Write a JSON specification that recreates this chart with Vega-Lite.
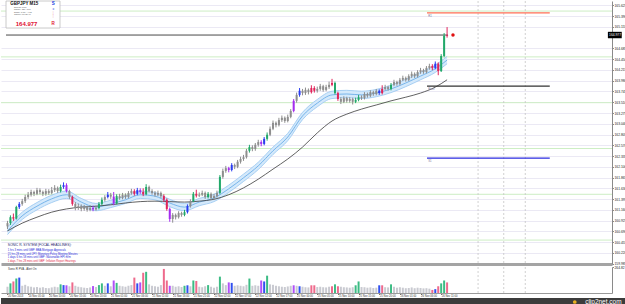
{
"$schema":"https://vega.github.io/schema/vega-lite/v6.json",
"padding":0,"spacing":0,"background":"white",
"config":{"view":{"stroke":null},"text":{"font":"Liberation Sans"},"axis":{"labelFont":"Liberation Sans","labelOverlap":false,"labelSeparation":0}},
"datasets":{
"bars":[
{"i":0,"o":160.80,"h":160.92,"l":160.74,"c":160.87,"v":65,"k":"n"},
{"i":1,"o":160.87,"h":161.04,"l":160.83,"c":161.00,"v":100,"k":"g"},
{"i":2,"o":161.00,"h":161.08,"l":160.92,"c":160.97,"v":120,"k":"r"},
{"i":3,"o":160.97,"h":161.25,"l":160.95,"c":161.22,"v":150,"k":"g"},
{"i":4,"o":161.22,"h":161.33,"l":161.18,"c":161.29,"v":160,"k":"b"},
{"i":5,"o":161.29,"h":161.40,"l":161.25,"c":161.35,"v":75,"k":"n"},
{"i":6,"o":161.35,"h":161.49,"l":161.31,"c":161.44,"v":85,"k":"n"},
{"i":7,"o":161.44,"h":161.55,"l":161.40,"c":161.49,"v":70,"k":"n"},
{"i":8,"o":161.49,"h":161.60,"l":161.45,"c":161.55,"v":65,"k":"n"},
{"i":9,"o":161.55,"h":161.58,"l":161.46,"c":161.51,"v":58,"k":"n"},
{"i":10,"o":161.51,"h":161.64,"l":161.48,"c":161.59,"v":62,"k":"n"},
{"i":11,"o":161.59,"h":161.63,"l":161.50,"c":161.55,"v":55,"k":"n"},
{"i":12,"o":161.55,"h":161.58,"l":161.46,"c":161.51,"v":60,"k":"n"},
{"i":13,"o":161.51,"h":161.62,"l":161.47,"c":161.57,"v":52,"k":"n"},
{"i":14,"o":161.57,"h":161.61,"l":161.49,"c":161.53,"v":50,"k":"n"},
{"i":15,"o":161.53,"h":161.66,"l":161.50,"c":161.59,"v":58,"k":"n"},
{"i":16,"o":161.59,"h":161.70,"l":161.55,"c":161.64,"v":65,"k":"n"},
{"i":17,"o":161.64,"h":161.67,"l":161.53,"c":161.57,"v":60,"k":"n"},
{"i":18,"o":161.57,"h":161.71,"l":161.54,"c":161.66,"v":90,"k":"g"},
{"i":19,"o":161.66,"h":161.76,"l":161.62,"c":161.70,"v":82,"k":"b"},
{"i":20,"o":161.70,"h":161.74,"l":161.54,"c":161.57,"v":80,"k":"p"},
{"i":21,"o":161.57,"h":161.60,"l":161.40,"c":161.44,"v":70,"k":"n"},
{"i":22,"o":161.44,"h":161.47,"l":161.25,"c":161.29,"v":110,"k":"r"},
{"i":23,"o":161.29,"h":161.33,"l":161.15,"c":161.20,"v":75,"k":"n"},
{"i":24,"o":161.20,"h":161.30,"l":161.16,"c":161.24,"v":65,"k":"n"},
{"i":25,"o":161.24,"h":161.28,"l":161.13,"c":161.18,"v":60,"k":"n"},
{"i":26,"o":161.18,"h":161.27,"l":161.14,"c":161.22,"v":55,"k":"n"},
{"i":27,"o":161.22,"h":161.25,"l":161.12,"c":161.16,"v":52,"k":"n"},
{"i":28,"o":161.16,"h":161.26,"l":161.13,"c":161.20,"v":58,"k":"n"},
{"i":29,"o":161.20,"h":161.25,"l":161.13,"c":161.17,"v":72,"k":"p"},
{"i":30,"o":161.17,"h":161.25,"l":161.14,"c":161.20,"v":62,"k":"n"},
{"i":31,"o":161.20,"h":161.33,"l":161.17,"c":161.29,"v":82,"k":"g"},
{"i":32,"o":161.29,"h":161.43,"l":161.26,"c":161.38,"v":100,"k":"g"},
{"i":33,"o":161.38,"h":161.48,"l":161.34,"c":161.44,"v":75,"k":"n"},
{"i":34,"o":161.44,"h":161.55,"l":161.41,"c":161.49,"v":100,"k":"b"},
{"i":35,"o":161.49,"h":161.53,"l":161.40,"c":161.45,"v":70,"k":"n"},
{"i":36,"o":161.45,"h":161.55,"l":161.26,"c":161.30,"v":130,"k":"p"},
{"i":37,"o":161.30,"h":161.50,"l":161.28,"c":161.46,"v":105,"k":"g"},
{"i":38,"o":161.46,"h":161.51,"l":161.38,"c":161.42,"v":75,"k":"n"},
{"i":39,"o":161.42,"h":161.53,"l":161.39,"c":161.49,"v":70,"k":"n"},
{"i":40,"o":161.49,"h":161.52,"l":161.40,"c":161.44,"v":65,"k":"n"},
{"i":41,"o":161.44,"h":161.57,"l":161.41,"c":161.53,"v":75,"k":"n"},
{"i":42,"o":161.53,"h":161.62,"l":161.49,"c":161.57,"v":82,"k":"n"},
{"i":43,"o":161.57,"h":161.61,"l":161.47,"c":161.51,"v":160,"k":"r"},
{"i":44,"o":161.51,"h":161.64,"l":161.48,"c":161.59,"v":100,"k":"b"},
{"i":45,"o":161.59,"h":161.63,"l":161.51,"c":161.55,"v":110,"k":"p"},
{"i":46,"o":161.55,"h":161.63,"l":161.46,"c":161.50,"v":210,"k":"r"},
{"i":47,"o":161.50,"h":161.72,"l":161.48,"c":161.66,"v":220,"k":"g"},
{"i":48,"o":161.66,"h":161.69,"l":161.54,"c":161.57,"v":90,"k":"n"},
{"i":49,"o":161.57,"h":161.61,"l":161.49,"c":161.53,"v":75,"k":"n"},
{"i":50,"o":161.53,"h":161.57,"l":161.45,"c":161.49,"v":70,"k":"n"},
{"i":51,"o":161.49,"h":161.58,"l":161.46,"c":161.53,"v":65,"k":"n"},
{"i":52,"o":161.53,"h":161.56,"l":161.42,"c":161.46,"v":82,"k":"n"},
{"i":53,"o":161.46,"h":161.50,"l":161.33,"c":161.38,"v":250,"k":"r"},
{"i":54,"o":161.38,"h":161.41,"l":161.14,"c":161.18,"v":130,"k":"r"},
{"i":55,"o":161.18,"h":161.21,"l":160.90,"c":160.96,"v":75,"k":"p"},
{"i":56,"o":160.96,"h":161.09,"l":160.88,"c":161.05,"v":75,"k":"n"},
{"i":57,"o":161.05,"h":161.08,"l":160.95,"c":161.00,"v":65,"k":"n"},
{"i":58,"o":161.00,"h":161.13,"l":160.97,"c":161.09,"v":70,"k":"n"},
{"i":59,"o":161.09,"h":161.12,"l":161.01,"c":161.05,"v":62,"k":"n"},
{"i":60,"o":161.05,"h":161.16,"l":161.02,"c":161.11,"v":75,"k":"g"},
{"i":61,"o":161.11,"h":161.28,"l":161.08,"c":161.24,"v":80,"k":"b"},
{"i":62,"o":161.24,"h":161.39,"l":161.21,"c":161.35,"v":70,"k":"n"},
{"i":63,"o":161.35,"h":161.55,"l":161.33,"c":161.51,"v":130,"k":"g"},
{"i":64,"o":161.51,"h":161.60,"l":161.43,"c":161.47,"v":125,"k":"r"},
{"i":65,"o":161.47,"h":161.54,"l":161.44,"c":161.49,"v":65,"k":"n"},
{"i":66,"o":161.49,"h":161.58,"l":161.46,"c":161.53,"v":60,"k":"n"},
{"i":67,"o":161.53,"h":161.56,"l":161.40,"c":161.44,"v":70,"k":"n"},
{"i":68,"o":161.44,"h":161.55,"l":161.41,"c":161.51,"v":82,"k":"g"},
{"i":69,"o":161.51,"h":161.54,"l":161.38,"c":161.42,"v":65,"k":"n"},
{"i":70,"o":161.42,"h":161.51,"l":161.39,"c":161.46,"v":55,"k":"n"},
{"i":71,"o":161.46,"h":161.58,"l":161.43,"c":161.53,"v":65,"k":"n"},
{"i":72,"o":161.53,"h":161.92,"l":161.50,"c":161.88,"v":170,"k":"g"},
{"i":73,"o":161.88,"h":162.06,"l":161.84,"c":162.01,"v":100,"k":"n"},
{"i":74,"o":162.01,"h":162.12,"l":161.97,"c":162.07,"v":82,"k":"n"},
{"i":75,"o":162.07,"h":162.10,"l":161.98,"c":162.03,"v":110,"k":"p"},
{"i":76,"o":162.03,"h":162.18,"l":162.00,"c":162.14,"v":105,"k":"b"},
{"i":77,"o":162.14,"h":162.17,"l":162.05,"c":162.10,"v":75,"k":"n"},
{"i":78,"o":162.10,"h":162.25,"l":162.07,"c":162.21,"v":80,"k":"n"},
{"i":79,"o":162.21,"h":162.32,"l":162.17,"c":162.27,"v":75,"k":"n"},
{"i":80,"o":162.27,"h":162.36,"l":162.23,"c":162.31,"v":70,"k":"n"},
{"i":81,"o":162.31,"h":162.49,"l":162.28,"c":162.45,"v":85,"k":"n"},
{"i":82,"o":162.45,"h":162.58,"l":162.41,"c":162.53,"v":150,"k":"g"},
{"i":83,"o":162.53,"h":162.57,"l":162.44,"c":162.49,"v":75,"k":"n"},
{"i":84,"o":162.49,"h":162.62,"l":162.45,"c":162.58,"v":80,"k":"n"},
{"i":85,"o":162.58,"h":162.69,"l":162.54,"c":162.64,"v":75,"k":"n"},
{"i":86,"o":162.64,"h":162.68,"l":162.55,"c":162.60,"v":130,"k":"p"},
{"i":87,"o":162.60,"h":162.75,"l":162.57,"c":162.71,"v":120,"k":"b"},
{"i":88,"o":162.71,"h":162.85,"l":162.67,"c":162.80,"v":180,"k":"g"},
{"i":89,"o":162.80,"h":162.98,"l":162.77,"c":162.93,"v":90,"k":"n"},
{"i":90,"o":162.93,"h":163.11,"l":162.90,"c":163.06,"v":85,"k":"n"},
{"i":91,"o":163.06,"h":163.09,"l":162.96,"c":163.01,"v":75,"k":"n"},
{"i":92,"o":163.01,"h":163.17,"l":162.98,"c":163.12,"v":70,"k":"n"},
{"i":93,"o":163.12,"h":163.22,"l":163.08,"c":163.17,"v":65,"k":"n"},
{"i":94,"o":163.17,"h":163.20,"l":163.06,"c":163.10,"v":62,"k":"n"},
{"i":95,"o":163.10,"h":163.24,"l":163.07,"c":163.19,"v":68,"k":"n"},
{"i":96,"o":163.19,"h":163.36,"l":163.16,"c":163.32,"v":75,"k":"n"},
{"i":97,"o":163.32,"h":163.58,"l":163.29,"c":163.54,"v":80,"k":"p"},
{"i":98,"o":163.54,"h":163.72,"l":163.50,"c":163.67,"v":75,"k":"n"},
{"i":99,"o":163.67,"h":163.82,"l":163.63,"c":163.76,"v":70,"k":"b"},
{"i":100,"o":163.76,"h":163.80,"l":163.66,"c":163.71,"v":65,"k":"n"},
{"i":101,"o":163.71,"h":163.83,"l":163.67,"c":163.78,"v":60,"k":"n"},
{"i":102,"o":163.78,"h":163.81,"l":163.68,"c":163.73,"v":58,"k":"n"},
{"i":103,"o":163.73,"h":163.88,"l":163.70,"c":163.82,"v":80,"k":"r"},
{"i":104,"o":163.82,"h":163.86,"l":163.72,"c":163.76,"v":80,"k":"r"},
{"i":105,"o":163.76,"h":163.85,"l":163.72,"c":163.80,"v":62,"k":"n"},
{"i":106,"o":163.80,"h":163.91,"l":163.76,"c":163.86,"v":65,"k":"n"},
{"i":107,"o":163.86,"h":163.89,"l":163.74,"c":163.78,"v":60,"k":"n"},
{"i":108,"o":163.78,"h":163.89,"l":163.75,"c":163.84,"v":58,"k":"n"},
{"i":109,"o":163.84,"h":163.96,"l":163.80,"c":163.89,"v":65,"k":"n"},
{"i":110,"o":163.89,"h":164.02,"l":163.86,"c":163.93,"v":70,"k":"r"},
{"i":111,"o":163.93,"h":163.96,"l":163.68,"c":163.71,"v":90,"k":"g"},
{"i":112,"o":163.71,"h":163.74,"l":163.54,"c":163.58,"v":70,"k":"r"},
{"i":113,"o":163.58,"h":163.62,"l":163.47,"c":163.52,"v":65,"k":"n"},
{"i":114,"o":163.52,"h":163.64,"l":163.49,"c":163.60,"v":60,"k":"n"},
{"i":115,"o":163.60,"h":163.63,"l":163.50,"c":163.54,"v":58,"k":"n"},
{"i":116,"o":163.54,"h":163.62,"l":163.50,"c":163.58,"v":55,"k":"n"},
{"i":117,"o":163.58,"h":163.61,"l":163.46,"c":163.52,"v":60,"k":"n"},
{"i":118,"o":163.52,"h":163.61,"l":163.49,"c":163.56,"v":80,"k":"g"},
{"i":119,"o":163.56,"h":163.67,"l":163.53,"c":163.62,"v":120,"k":"g"},
{"i":120,"o":163.62,"h":163.66,"l":163.56,"c":163.60,"v":62,"k":"n"},
{"i":121,"o":163.60,"h":163.73,"l":163.57,"c":163.69,"v":60,"k":"n"},
{"i":122,"o":163.69,"h":163.72,"l":163.61,"c":163.65,"v":55,"k":"n"},
{"i":123,"o":163.65,"h":163.77,"l":163.62,"c":163.73,"v":58,"k":"n"},
{"i":124,"o":163.73,"h":163.76,"l":163.65,"c":163.69,"v":52,"k":"n"},
{"i":125,"o":163.69,"h":163.80,"l":163.66,"c":163.76,"v":55,"k":"n"},
{"i":126,"o":163.76,"h":163.79,"l":163.67,"c":163.71,"v":80,"k":"b"},
{"i":127,"o":163.71,"h":163.88,"l":163.68,"c":163.80,"v":80,"k":"r"},
{"i":128,"o":163.80,"h":163.89,"l":163.77,"c":163.84,"v":60,"k":"n"},
{"i":129,"o":163.84,"h":163.87,"l":163.76,"c":163.80,"v":58,"k":"n"},
{"i":130,"o":163.80,"h":163.93,"l":163.77,"c":163.89,"v":90,"k":"g"},
{"i":131,"o":163.89,"h":164.00,"l":163.86,"c":163.95,"v":65,"k":"n"},
{"i":132,"o":163.95,"h":163.98,"l":163.87,"c":163.91,"v":55,"k":"n"},
{"i":133,"o":163.91,"h":164.04,"l":163.88,"c":164.00,"v":60,"k":"n"},
{"i":134,"o":164.00,"h":164.09,"l":163.97,"c":164.04,"v":55,"k":"n"},
{"i":135,"o":164.04,"h":164.07,"l":163.96,"c":164.00,"v":50,"k":"n"},
{"i":136,"o":164.00,"h":164.12,"l":163.97,"c":164.08,"v":52,"k":"n"},
{"i":137,"o":164.08,"h":164.18,"l":164.04,"c":164.13,"v":58,"k":"n"},
{"i":138,"o":164.13,"h":164.16,"l":164.04,"c":164.08,"v":50,"k":"n"},
{"i":139,"o":164.08,"h":164.21,"l":164.05,"c":164.17,"v":55,"k":"n"},
{"i":140,"o":164.17,"h":164.26,"l":164.13,"c":164.21,"v":52,"k":"n"},
{"i":141,"o":164.21,"h":164.24,"l":164.13,"c":164.17,"v":48,"k":"n"},
{"i":142,"o":164.17,"h":164.30,"l":164.14,"c":164.26,"v":50,"k":"n"},
{"i":143,"o":164.26,"h":164.35,"l":164.22,"c":164.30,"v":45,"k":"n"},
{"i":144,"o":164.30,"h":164.34,"l":164.21,"c":164.26,"v":32,"k":"r"},
{"i":145,"o":164.26,"h":164.40,"l":164.23,"c":164.35,"v":40,"k":"b"},
{"i":146,"o":164.35,"h":164.38,"l":164.10,"c":164.19,"v":70,"k":"r"},
{"i":147,"o":164.19,"h":164.56,"l":164.17,"c":164.52,"v":100,"k":"g"},
{"i":148,"o":164.52,"h":165.02,"l":164.49,"c":164.96,"v":130,"k":"g"},
{"i":149,"o":164.96,"h":165.15,"l":164.92,"c":164.977,"v":110,"k":"r"}
],
"ema":[
{"i":0,"el":160.62,"em":160.70,"eh":160.78,"ma":160.70},
{"i":5,"el":160.95,"em":161.03,"eh":161.11,"ma":160.87},
{"i":10,"el":161.16,"em":161.24,"eh":161.32,"ma":161.00},
{"i":15,"el":161.32,"em":161.40,"eh":161.48,"ma":161.11},
{"i":20,"el":161.41,"em":161.49,"eh":161.57,"ma":161.18},
{"i":25,"el":161.25,"em":161.33,"eh":161.41,"ma":161.22},
{"i":30,"el":161.14,"em":161.22,"eh":161.30,"ma":161.24},
{"i":35,"el":161.21,"em":161.29,"eh":161.37,"ma":161.27},
{"i":40,"el":161.30,"em":161.38,"eh":161.46,"ma":161.31},
{"i":45,"el":161.41,"em":161.49,"eh":161.57,"ma":161.34},
{"i":50,"el":161.38,"em":161.46,"eh":161.54,"ma":161.35},
{"i":55,"el":161.23,"em":161.31,"eh":161.39,"ma":161.34},
{"i":60,"el":161.14,"em":161.22,"eh":161.30,"ma":161.33},
{"i":65,"el":161.25,"em":161.33,"eh":161.41,"ma":161.35},
{"i":70,"el":161.34,"em":161.42,"eh":161.50,"ma":161.39},
{"i":75,"el":161.54,"em":161.62,"eh":161.70,"ma":161.49},
{"i":80,"el":161.78,"em":161.86,"eh":161.94,"ma":161.64},
{"i":85,"el":162.04,"em":162.12,"eh":162.20,"ma":161.83},
{"i":90,"el":162.37,"em":162.45,"eh":162.53,"ma":162.05},
{"i":95,"el":162.67,"em":162.75,"eh":162.83,"ma":162.27},
{"i":100,"el":163.13,"em":163.21,"eh":163.29,"ma":162.53},
{"i":105,"el":163.41,"em":163.49,"eh":163.57,"ma":162.84},
{"i":110,"el":163.59,"em":163.67,"eh":163.75,"ma":163.10},
{"i":115,"el":163.61,"em":163.69,"eh":163.77,"ma":163.25},
{"i":120,"el":163.59,"em":163.67,"eh":163.75,"ma":163.36},
{"i":125,"el":163.63,"em":163.71,"eh":163.79,"ma":163.45},
{"i":130,"el":163.72,"em":163.80,"eh":163.88,"ma":163.54},
{"i":135,"el":163.85,"em":163.93,"eh":164.01,"ma":163.62},
{"i":140,"el":164.00,"em":164.08,"eh":164.16,"ma":163.71},
{"i":145,"el":164.16,"em":164.24,"eh":164.32,"ma":163.84},
{"i":149,"el":164.35,"em":164.43,"eh":164.51,"ma":164.00}
],
"levels":[{"p":160.5},{"p":161.5},{"p":162.5},{"p":163.5},{"p":164.5},{"p":165.5}],
"pivots":[{"name":"R1","p":165.46},{"name":"Pivot","p":163.86},{"name":"S1","p":162.29}],
"markers":[{"i":159.5},{"i":168.2},{"i":175.5}]
},
"vconcat":[
{"width":611,"height":263,
"resolve":{"scale":{"color":"independent"}},
"layer":[
{"data":{"name":"levels"},"mark":{"type":"rule","color":"#cdeec4","strokeWidth":1},
 "encoding":{"y":{"field":"p","type":"quantitative","title":null,"scale":{"domain":[159.978,165.72],"nice":false,"zero":false},
 "axis":{"orient":"right","values":[159.985,160.22,160.455,160.69,160.925,161.16,161.395,161.63,161.865,162.1,162.335,162.57,162.805,163.04,163.275,163.51,163.745,163.98,164.215,164.45,164.685,165.155,165.39,165.625],"tickCount":100,"format":".3f","labelFontSize":3.3,"labelColor":"#222","labelPadding":0.5,"tickSize":1.5,"tickColor":"#888","domainColor":"#8a8a8a","grid":true,"gridColor":"#ebe9f4","labelOverlap":false,"labelFlush":false,"labelBound":false}}}},
{"data":{"name":"markers"},"mark":{"type":"rule","color":"#c4c4c4","strokeDash":[2,2],"strokeWidth":0.8},
 "encoding":{"x":{"field":"i","type":"quantitative","title":null,"scale":{"domain":[-0.5,203.2],"nice":false,"zero":false},
 "axis":{"orient":"bottom","labels":false,"ticks":false,"grid":false,"domainColor":"#a4a4a4","domainWidth":3}}}},
{"data":{"name":"ema"},"mark":{"type":"area","color":"#d4e9fb","interpolate":"monotone"},
 "encoding":{"x":{"field":"i","type":"quantitative","title":null},"y":{"field":"el","type":"quantitative","title":null},"y2":{"field":"eh"}}},
{"data":{"name":"ema"},"mark":{"type":"line","color":"#9fcbf2","strokeWidth":0.9,"interpolate":"monotone"},
 "encoding":{"x":{"field":"i","type":"quantitative","title":null},"y":{"field":"el","type":"quantitative","title":null}}},
{"data":{"name":"ema"},"mark":{"type":"line","color":"#9fcbf2","strokeWidth":0.9,"interpolate":"monotone"},
 "encoding":{"x":{"field":"i","type":"quantitative","title":null},"y":{"field":"eh","type":"quantitative","title":null}}},
{"data":{"name":"ema"},"mark":{"type":"line","color":"#5fa7e6","strokeWidth":0.8,"interpolate":"monotone"},
 "encoding":{"x":{"field":"i","type":"quantitative","title":null},"y":{"field":"em","type":"quantitative","title":null}}},
{"data":{"name":"ema"},"mark":{"type":"line","color":"#3a3a3a","strokeWidth":0.8,"interpolate":"monotone"},
 "encoding":{"x":{"field":"i","type":"quantitative","title":null},"y":{"field":"ma","type":"quantitative","title":null}}},
{"data":{"values":[{}]},"mark":{"type":"rule","color":"#4a4a4a","strokeWidth":1},
 "encoding":{"x":{"datum":-0.5},"x2":{"datum":149.3},"y":{"datum":164.977}}},
{"data":{"name":"pivots"},"mark":{"type":"rule","strokeWidth":1.2},
 "encoding":{"x":{"datum":142.2},"x2":{"datum":183.8},"y":{"field":"p","type":"quantitative","title":null},
 "color":{"field":"name","type":"nominal","legend":null,"scale":{"domain":["R1","Pivot","S1"],"range":["#ff6f55","#333333","#2a2ae0"]}}}},
{"data":{"name":"pivots"},"mark":{"type":"text","fontSize":2.8,"color":"#7a7a9a","align":"left","baseline":"top","dy":1.5},
 "encoding":{"x":{"datum":142.6},"y":{"field":"p","type":"quantitative","title":null},"text":{"field":"name"}}},
{"data":{"name":"bars"},"mark":{"type":"rule","strokeWidth":1},
 "encoding":{"x":{"field":"i","type":"quantitative","title":null},"y":{"field":"l","type":"quantitative","title":null},"y2":{"field":"h"},
 "color":{"field":"k","type":"nominal","legend":null,"scale":{"domain":["n","g","r","b","p"],"range":["#8e8e8e","#22a86a","#e0245a","#2a3cf0","#a52cf0"]}}}},
{"data":{"name":"bars"},"mark":{"type":"bar","size":2},
 "encoding":{"x":{"field":"i","type":"quantitative","title":null},"y":{"field":"o","type":"quantitative","title":null},"y2":{"field":"c"},
 "color":{"field":"k","type":"nominal","legend":null,"scale":{"domain":["n","g","r","b","p"],"range":["#8e8e8e","#22a86a","#e0245a","#2a3cf0","#a52cf0"]}}}},
{"data":{"values":[{}]},"mark":{"type":"point","filled":true,"color":"#e01010","size":12,"opacity":1},
 "encoding":{"x":{"datum":151},"y":{"datum":164.977}}},
{"data":{"values":[{}]},"mark":{"type":"rect","fill":"white","stroke":"#bdbdbd","strokeWidth":0.8},
 "encoding":{"x":{"datum":-0.5},"x2":{"datum":17.8},"y":{"datum":165.72},"y2":{"datum":165.13}}},
{"data":{"values":[{}]},"mark":{"type":"text","text":"GBPJPY  M15","fontSize":4.5,"fontWeight":"bold","color":"#111","align":"left","baseline":"middle"},
 "encoding":{"x":{"datum":0.9},"y":{"datum":165.655}}},
{"data":{"values":[{}]},"mark":{"type":"text","text":["Spread:  2.80","Range:  126 / 100","Swap:  1.65 / -4.15","Candle:  00:05:40"],"fontSize":2.2,"lineHeight":2.4,"color":"#555","align":"left","baseline":"top"},
 "encoding":{"x":{"datum":2.2},"y":{"datum":165.61}}},
{"data":{"values":[{}]},"mark":{"type":"text","text":"164.977","fontSize":6,"fontWeight":"bold","color":"#e01030","align":"left","baseline":"middle"},
 "encoding":{"x":{"datum":2.8},"y":{"datum":165.22}}},
{"data":{"values":[{}]},"mark":{"type":"text","text":"S","fontSize":4.5,"fontWeight":"bold","color":"#2040e0","align":"center","baseline":"middle"},
 "encoding":{"x":{"datum":15.5},"y":{"datum":165.655}}},
{"data":{"values":[{}]},"mark":{"type":"text","text":"o","fontSize":3,"color":"#2040e0","align":"center","baseline":"middle"},
 "encoding":{"x":{"datum":15.5},"y":{"datum":165.55}}},
{"data":{"values":[{}]},"mark":{"type":"text","text":["|","|"],"fontSize":2.8,"lineHeight":3.2,"color":"#f08aa0","align":"center","baseline":"top"},
 "encoding":{"x":{"datum":15.5},"y":{"datum":165.48}}},
{"data":{"values":[{}]},"mark":{"type":"text","text":"R","fontSize":4.5,"fontWeight":"bold","color":"#e01030","align":"center","baseline":"middle"},
 "encoding":{"x":{"datum":15.5},"y":{"datum":165.22}}},
{"data":{"values":[{}]},"mark":{"type":"text","text":"SONIC R. SYSTEM  (FOCAL HEADLINES):","fontSize":3.3,"color":"#1a1a6a","align":"left","baseline":"middle"},
 "encoding":{"x":{"datum":0.1},"y":{"datum":160.387}}},
{"data":{"values":[{}]},"mark":{"type":"text","text":["1 hrs 3 mins until GBP: BBA Mortgage Approvals","21 hrs 28 mins until JPY: Monetary Policy Meeting Minutes","1 days 6 hrs 58 mins until GBP: Nationwide HPI m/m"],"fontSize":2.7,"lineHeight":3.9,"color":"#2b2bd8","align":"left","baseline":"top"},
 "encoding":{"x":{"datum":0.1},"y":{"datum":160.313}}},
{"data":{"values":[{}]},"mark":{"type":"text","text":"1 days 7 hrs 28 mins until GBP: Inflation Report Hearings","fontSize":2.7,"color":"#e0284a","align":"left","baseline":"middle"},
 "encoding":{"x":{"datum":0.1},"y":{"datum":160.03}}},
{"data":{"values":[{}]},"mark":{"type":"rect","fill":"#000000"},
 "encoding":{"x":{"datum":203.5},"x2":{"datum":208.2},"y":{"datum":164.907},"y2":{"datum":165.047}}},
{"data":{"values":[{}]},"mark":{"type":"text","text":"164.977","fontSize":3.3,"color":"white","align":"left","baseline":"middle"},
 "encoding":{"x":{"datum":203.9},"y":{"datum":164.977}}}
]},
{"width":611,"height":26,
"layer":[
{"data":{"name":"markers"},"mark":{"type":"rule","color":"#c4c4c4","strokeDash":[2,2],"strokeWidth":0.8},
 "encoding":{"x":{"field":"i","type":"quantitative","title":null,"scale":{"domain":[-0.5,203.2],"nice":false,"zero":false},
 "axis":{"orient":"bottom","values":[0,7,14,21,28,35,42,49,56,63,70,77,84,91,98,105,112,119,126,133,140,147],"tickCount":100,
 "labelExpr":"['20 Nov 2013','20 Nov 05:00','20 Nov 10:00','20 Nov 15:00','20 Nov 20:00','21 Nov 01:00','21 Nov 06:00','21 Nov 11:00','21 Nov 16:00','21 Nov 21:00','22 Nov 02:00','22 Nov 07:00','22 Nov 12:00','22 Nov 17:00','25 Nov 00:00','25 Nov 05:00','25 Nov 10:00','25 Nov 15:00','25 Nov 20:00','26 Nov 01:00','26 Nov 06:00','26 Nov 11:00'][round(datum.value/7)]",
 "labelFontSize":2.7,"labelAlign":"left","labelPadding":0.5,"tickSize":1.5,"tickColor":"#777","domainColor":"#9a9a9a","labelColor":"#333","grid":false,"labelOverlap":false,"labelBound":false,"labelFlush":false}}}},
{"data":{"name":"bars"},"mark":{"type":"bar","size":2},
 "encoding":{"x":{"field":"i","type":"quantitative","title":null},
 "y":{"field":"v","type":"quantitative","title":null,"scale":{"domain":[0,270],"nice":false},
 "axis":{"orient":"right","values":[264.82],"format":".2f","labelFontSize":3.3,"labelColor":"#222","labelPadding":0.5,"tickSize":1.5,"tickColor":"#888","domainColor":"#8a8a8a","grid":false,"labelBound":false,"labelFlush":false}},
 "color":{"field":"k","type":"nominal","legend":null,"scale":{"domain":["n","g","r","b","p"],"range":["#c9cad1","#3cbc84","#ee6a8c","#3050f0","#b050f8"]}}}},
{"data":{"values":[{}]},"mark":{"type":"text","text":"Sonic R PVA -  Alert On","fontSize":2.8,"color":"#333","align":"left","baseline":"top"},
 "encoding":{"x":{"datum":0.2},"y":{"datum":266}}}
]},
{"width":625,"height":8,"view":{"fill":"#3c3c3c","stroke":null},
"layer":[
{"data":{"values":[{}]},"mark":{"type":"point","filled":true,"color":"#e8b020","size":14,"opacity":1},
 "encoding":{"x":{"datum":0.918,"type":"quantitative","scale":{"domain":[0,1]},"axis":null},"y":{"datum":0.5,"type":"quantitative","scale":{"domain":[0,1]},"axis":null}}},
{"data":{"values":[{}]},"mark":{"type":"text","text":"clip2net.com","fontSize":6.5,"color":"white","align":"right","baseline":"middle"},
 "encoding":{"x":{"datum":0.993},"y":{"datum":0.5}}}
]}
]
}
